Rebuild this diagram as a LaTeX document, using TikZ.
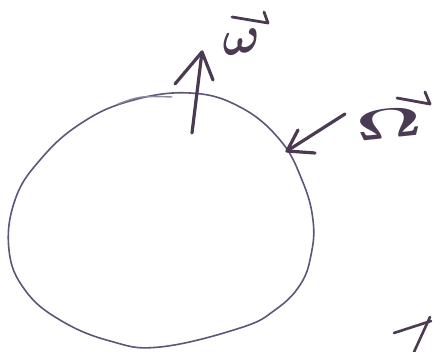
\documentclass[tikz,border=0pt]{standalone}
\usetikzlibrary{arrows.meta}
\begin{document}
\begin{tikzpicture}[x=1pt,y=-1pt,
  ink/.style={draw=inkcol,line width=3.2pt,line cap=round,line join=round},
  acc/.style={draw=inkcol,line width=2.8pt,line cap=round,line join=round},
  rim/.style={draw=rimcol,line width=1.6pt},
  lbl/.style={text=inkcol,inner sep=0pt,font=\boldmath}]
\definecolor{inkcol}{HTML}{4A3A52}
\definecolor{rimcol}{HTML}{5E5676}
\useasboundingbox (0,0) rectangle (439,352);
\fill[white] (0,0) rectangle (439,352);
% disc outline
\draw[rim] plot[smooth cycle,tension=0.7] coordinates {
 (190,93) (240,107) (280,140) (302,180) (313,220) (311,255) (300,285)
 (275,310) (240,328) (160,347) (110,341) (60,320) (25,290) (9,250)
 (15,200) (40,160) (80,124) (130,101)};
% small stroke at top
\draw[draw=rimcol!70,line width=1.4pt,line cap=round] (118,104) .. controls (140,96) .. (172,97);
% omega arrow
\coordinate (wt) at (192,133);
\coordinate (wh) at (202,52);
\draw[ink] (wt) -- (wh);
\draw[ink] (175,84) -- (wh) -- (213,80);
\node[lbl,rotate=10] (w) at (242,42) {\scalebox{5.2}[5]{$\omega$}};
\coordinate (wa) at (232,17);
\coordinate (wb) at (268,23);
\draw[acc] (wa) -- (wb) -- (264,12);
% Omega arrow
\coordinate (ot) at (345,114);
\coordinate (oh) at (287,151);
\draw[ink] (ot) -- (oh);
\draw[ink] (298,130) -- (oh) -- (315,153);
\node[lbl,rotate=6] (O) at (389,124) {\scalebox{8}[4.2]{$\Omega$}};
\coordinate (oa) at (397,98);
\coordinate (ob) at (430,104);
\draw[acc] (oa) -- (ob) -- (425,92);
% fragment at bottom right
\draw[ink,line width=2.6pt] (394,333) -- (431,321);
\draw[ink,line width=2.6pt] (430,317) -- (414,352);
\end{tikzpicture}
\end{document}
